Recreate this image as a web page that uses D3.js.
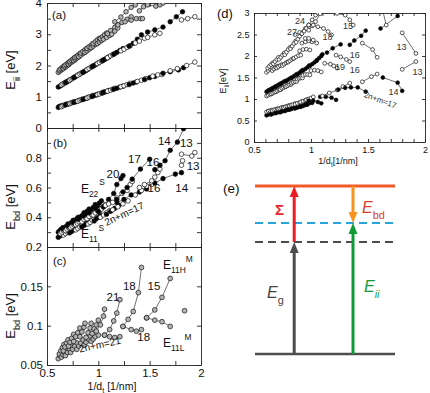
<!doctype html>
<html>
<head>
<meta charset="UTF-8">
<title>Kataura and Ebd plots</title>
<style>
  body { margin: 0; background: #fff; }
  svg text { font-family: "Liberation Sans", Arial, sans-serif; }
</style>
<script src="https://cdn.jsdelivr.net/npm/d3@7/dist/d3.min.js"></script>
</head>
<body>
<svg id="fig" width="430" height="393"></svg>
<script>
// ---- ticks ----
var abcXTicks = [0.5, 0.75, 1, 1.25, 1.5, 1.75, 2];
var abcXLabels = [0.5, 1, 1.5, 2];
var aYTicks = [0, 0.5, 1, 1.5, 2, 2.5, 3, 3.5, 4];
var aYLabels = [0, 1, 2, 3, 4];
var bYTicks = [0.2, 0.3, 0.4, 0.5, 0.6, 0.7, 0.8, 0.9, 1.0];
var bYLabels = [0.2, 0.4, 0.6, 0.8];
var cYTicks = [0.05, 0.1, 0.15, 0.2];
var cYLabels = [0.05, 0.1, 0.15];
var dXTicks = [0.5, 0.6, 0.7, 0.8, 0.9, 1, 1.1, 1.2, 1.3, 1.4, 1.5, 1.6, 1.7, 1.8, 1.9, 2];
var dXLabels = [0.5, 1, 1.5, 2];
var dYTicks = [0, 0.5, 1, 1.5, 2, 2.5, 3];

// ---- panel (a): Eii vs 1/dt, t = 1 filled, 2 open, 3 metallic ----
var aE11 = [
  {t:1, p:[[0.61,0.66],[0.62,0.69],[0.635,0.70],[0.65,0.72]]},
  {t:2, p:[[0.64,0.68],[0.655,0.71],[0.67,0.73],[0.685,0.76]]},
  {t:1, p:[[0.68,0.74],[0.695,0.76],[0.71,0.77],[0.725,0.79]]},
  {t:2, p:[[0.72,0.78],[0.735,0.80],[0.75,0.82],[0.765,0.84]]},
  {t:1, p:[[0.76,0.82],[0.775,0.84],[0.79,0.85],[0.81,0.88]]},
  {t:2, p:[[0.80,0.86],[0.82,0.89],[0.835,0.91],[0.85,0.93]]},
  {t:1, p:[[0.85,0.91],[0.87,0.94],[0.885,0.95],[0.90,0.98]]},
  {t:2, p:[[0.89,0.96],[0.91,0.99],[0.93,1.01],[0.945,1.04]]},
  {t:1, p:[[0.94,1.01],[0.96,1.04],[0.98,1.06],[0.995,1.08]]},
  {t:2, p:[[0.99,1.07],[1.01,1.09],[1.03,1.12],[1.05,1.15]]},
  {t:1, p:[[1.04,1.12],[1.06,1.15],[1.08,1.17],[1.10,1.20]]},
  {t:2, p:[[1.09,1.18],[1.12,1.21],[1.14,1.24],[1.16,1.27]]},
  {t:1, p:[[1.15,1.24],[1.18,1.27],[1.21,1.31],[1.24,1.34]]},
  {t:2, p:[[1.22,1.32],[1.25,1.35],[1.28,1.39],[1.31,1.43]]},
  {t:1, p:[[1.30,1.39],[1.34,1.44],[1.37,1.47]]},
  {t:2, p:[[1.38,1.49],[1.42,1.53],[1.46,1.58]]},
  {t:1, p:[[1.45,1.55],[1.50,1.61],[1.55,1.65]]},
  {t:2, p:[[1.53,1.66],[1.58,1.70],[1.62,1.71]]},
  {t:1, p:[[1.63,1.75],[1.70,1.80],[1.78,1.86],[1.83,1.93]]},
  {t:2, p:[[1.70,1.83],[1.77,1.90]]},
  {t:2, p:[[1.86,2.00],[1.94,2.11]]}
];
var aE22 = [
  {t:1, p:[[0.61,1.31],[0.625,1.34],[0.64,1.37],[0.655,1.40]]},
  {t:2, p:[[0.64,1.38],[0.655,1.41],[0.67,1.44],[0.685,1.47]]},
  {t:1, p:[[0.68,1.45],[0.695,1.48],[0.71,1.51],[0.725,1.54]]},
  {t:2, p:[[0.72,1.53],[0.735,1.56],[0.75,1.59],[0.765,1.62]]},
  {t:1, p:[[0.76,1.61],[0.775,1.64],[0.79,1.67],[0.81,1.71]]},
  {t:2, p:[[0.80,1.69],[0.82,1.73],[0.835,1.76],[0.85,1.79]]},
  {t:1, p:[[0.85,1.78],[0.87,1.82],[0.885,1.85],[0.90,1.88]]},
  {t:2, p:[[0.89,1.87],[0.91,1.91],[0.93,1.95],[0.945,1.98]]},
  {t:1, p:[[0.94,1.96],[0.96,2.00],[0.98,2.04],[1.00,2.08]]},
  {t:2, p:[[0.99,2.06],[1.01,2.10],[1.03,2.14],[1.05,2.18]]},
  {t:1, p:[[1.04,2.15],[1.06,2.19],[1.08,2.23],[1.10,2.27]]},
  {t:2, p:[[1.09,2.25],[1.12,2.31],[1.14,2.35],[1.16,2.38]]},
  {t:1, p:[[1.15,2.36],[1.18,2.42],[1.21,2.48],[1.24,2.54]]},
  {t:2, p:[[1.22,2.47],[1.25,2.52],[1.28,2.58],[1.31,2.63]]},
  {t:1, p:[[1.30,2.62],[1.34,2.71],[1.38,2.84],[1.42,2.98]]},
  {t:2, p:[[1.36,2.72],[1.40,2.78],[1.45,2.87]]},
  {t:2, p:[[1.48,2.90],[1.55,2.98],[1.60,3.03]]},
  {t:1, p:[[1.48,3.07],[1.55,3.14],[1.63,3.23]]},
  {t:1, p:[[1.70,3.40],[1.76,3.56],[1.82,3.72]]},
  {t:2, p:[[1.81,3.46],[1.87,3.50],[1.94,3.56]]}
];
var aE33 = [
  {t:3, p:[[0.61,1.78],[0.625,1.82],[0.64,1.86],[0.655,1.90]]},
  {t:3, p:[[0.62,1.86],[0.635,1.90],[0.65,1.94],[0.665,1.98]]},
  {t:3, p:[[0.66,1.90],[0.675,1.94],[0.69,1.98],[0.705,2.02]]},
  {t:3, p:[[0.67,1.99],[0.685,2.03],[0.70,2.07],[0.715,2.11]]},
  {t:3, p:[[0.71,2.03],[0.725,2.07],[0.74,2.11],[0.755,2.15]]},
  {t:3, p:[[0.72,2.12],[0.735,2.16],[0.75,2.20],[0.765,2.24]]},
  {t:3, p:[[0.76,2.15],[0.775,2.19],[0.79,2.23],[0.81,2.28]]},
  {t:3, p:[[0.77,2.25],[0.785,2.29],[0.80,2.33],[0.82,2.38]]},
  {t:3, p:[[0.81,2.28],[0.83,2.33],[0.85,2.38],[0.87,2.43]]},
  {t:3, p:[[0.83,2.40],[0.85,2.45],[0.87,2.50],[0.89,2.55]]},
  {t:3, p:[[0.87,2.42],[0.89,2.47],[0.91,2.52],[0.93,2.57]]},
  {t:3, p:[[0.89,2.55],[0.91,2.60],[0.93,2.65],[0.95,2.70]]},
  {t:3, p:[[0.93,2.57],[0.95,2.62],[0.97,2.67],[0.99,2.72]]},
  {t:3, p:[[0.95,2.70],[0.97,2.76],[0.99,2.82],[1.01,2.87]]},
  {t:3, p:[[0.99,2.70],[1.01,2.75],[1.03,2.80],[1.05,2.86]]},
  {t:3, p:[[1.02,2.86],[1.04,2.92],[1.06,2.98],[1.08,3.04]]},
  {t:3, p:[[1.05,2.84],[1.08,2.90],[1.11,2.96],[1.13,3.02]]},
  {t:3, p:[[1.09,3.02],[1.12,3.12],[1.16,3.22],[1.19,3.30]]},
  {t:3, p:[[1.13,3.00],[1.16,3.10],[1.19,3.20]]},
  {t:3, p:[[1.19,3.30],[1.23,3.38],[1.28,3.48],[1.32,3.56]]},
  {t:3, p:[[1.16,3.40],[1.22,3.55],[1.27,3.72],[1.32,3.86],[1.36,3.94]]},
  {t:3, p:[[1.26,3.40],[1.32,3.45],[1.37,3.50],[1.41,3.50],[1.43,3.50]]},
  {t:3, p:[[1.40,3.75],[1.44,3.88],[1.48,3.96]]},
  {t:3, p:[[1.48,3.94],[1.56,3.90],[1.60,3.94],[1.63,4.0]]}
];

// ---- panel (b): Ebd of semiconducting tubes ----
var bE22 = [
  {t:1, p:[[0.61,0.30],[0.625,0.31],[0.64,0.32],[0.655,0.33]]},
  {t:2, p:[[0.63,0.29],[0.645,0.30],[0.66,0.31],[0.675,0.32]]},
  {t:1, p:[[0.66,0.32],[0.675,0.33],[0.69,0.34],[0.705,0.355]]},
  {t:2, p:[[0.68,0.31],[0.695,0.32],[0.71,0.33],[0.725,0.34]]},
  {t:1, p:[[0.71,0.34],[0.725,0.355],[0.74,0.365],[0.755,0.38]]},
  {t:2, p:[[0.73,0.33],[0.745,0.34],[0.76,0.35],[0.775,0.36]]},
  {t:1, p:[[0.76,0.36],[0.775,0.375],[0.79,0.39],[0.805,0.40]]},
  {t:2, p:[[0.78,0.35],[0.795,0.36],[0.81,0.37],[0.83,0.385]]},
  {t:1, p:[[0.81,0.385],[0.825,0.40],[0.84,0.41],[0.86,0.43]]},
  {t:2, p:[[0.84,0.37],[0.86,0.385],[0.875,0.395],[0.89,0.41]]},
  {t:1, p:[[0.86,0.41],[0.875,0.42],[0.89,0.44],[0.91,0.455]]},
  {t:2, p:[[0.89,0.39],[0.91,0.405],[0.93,0.42],[0.95,0.435]]},
  {t:1, p:[[0.91,0.43],[0.93,0.45],[0.95,0.465],[0.97,0.485]]},
  {t:2, p:[[0.95,0.415],[0.97,0.43],[0.99,0.445],[1.01,0.46]]},
  {t:1, p:[[0.97,0.46],[0.99,0.475],[1.01,0.495],[1.03,0.51]]},
  {t:2, p:[[1.01,0.44],[1.03,0.455],[1.05,0.47],[1.07,0.485]]},
  {t:1, p:[[1.00,0.44],[1.05,0.47],[1.10,0.52],[1.15,0.56],[1.18,0.62],[1.22,0.66],[1.24,0.68]]},
  {t:2, p:[[1.07,0.48],[1.10,0.49],[1.14,0.50],[1.18,0.53],[1.23,0.56],[1.28,0.58],[1.31,0.62],[1.33,0.64]]},
  {t:1, p:[[1.18,0.52],[1.24,0.57],[1.28,0.60],[1.33,0.656],[1.41,0.724],[1.50,0.79]]},
  {t:2, p:[[1.40,0.60],[1.45,0.62],[1.52,0.645],[1.55,0.67],[1.58,0.70],[1.60,0.724]]},
  {t:1, p:[[1.55,0.72],[1.60,0.75],[1.65,0.78],[1.70,0.85],[1.77,0.905],[1.83,0.995]]},
  {t:2, p:[[1.81,0.824],[1.91,0.812],[1.94,0.835]]},
  {t:2, p:[[1.81,0.75],[1.82,0.78]]}
];
var bE11 = [
  {t:1, p:[[0.61,0.265],[0.63,0.275],[0.65,0.285],[0.67,0.29]]},
  {t:2, p:[[0.66,0.28],[0.68,0.29],[0.70,0.30],[0.72,0.31]]},
  {t:1, p:[[0.72,0.295],[0.74,0.305],[0.76,0.315],[0.78,0.325]]},
  {t:2, p:[[0.78,0.315],[0.80,0.325],[0.82,0.335],[0.84,0.345]]},
  {t:1, p:[[0.84,0.335],[0.86,0.345],[0.88,0.355],[0.90,0.37]]},
  {t:2, p:[[0.90,0.355],[0.92,0.365],[0.94,0.38],[0.96,0.39]]},
  {t:1, p:[[0.96,0.375],[0.98,0.39],[1.00,0.40],[1.02,0.415]]},
  {t:2, p:[[1.02,0.40],[1.05,0.415],[1.08,0.43],[1.11,0.445]]},
  {t:1, p:[[1.08,0.42],[1.12,0.44],[1.16,0.46],[1.20,0.48]]},
  {t:2, p:[[1.14,0.45],[1.19,0.47],[1.24,0.49],[1.29,0.51]]},
  {t:1, p:[[1.18,0.50],[1.25,0.52],[1.32,0.55],[1.40,0.57],[1.47,0.59]]},
  {t:2, p:[[1.36,0.55],[1.42,0.58],[1.47,0.61],[1.52,0.62]]},
  {t:1, p:[[1.55,0.63],[1.63,0.66],[1.75,0.69],[1.81,0.70]]}
];

// ---- panel (c): Ebd of metallic tubes ----
var cM = [
  {t:3, p:[[0.61,0.058],[0.625,0.062],[0.64,0.066],[0.655,0.070]]},
  {t:3, p:[[0.62,0.064],[0.635,0.068],[0.65,0.072],[0.665,0.076]]},
  {t:3, p:[[0.64,0.060],[0.655,0.063],[0.67,0.066],[0.685,0.070]]},
  {t:3, p:[[0.66,0.068],[0.675,0.073],[0.69,0.078],[0.705,0.082]]},
  {t:3, p:[[0.68,0.062],[0.70,0.066],[0.72,0.070],[0.74,0.074]]},
  {t:3, p:[[0.71,0.074],[0.725,0.079],[0.74,0.084],[0.76,0.089]]},
  {t:3, p:[[0.73,0.066],[0.75,0.070],[0.77,0.074],[0.79,0.078]]},
  {t:3, p:[[0.76,0.080],[0.78,0.086],[0.80,0.091],[0.82,0.097]]},
  {t:3, p:[[0.79,0.070],[0.81,0.074],[0.83,0.078],[0.85,0.082]]},
  {t:3, p:[[0.82,0.086],[0.84,0.092],[0.86,0.098],[0.87,0.103]]},
  {t:3, p:[[0.86,0.075],[0.88,0.079],[0.90,0.083],[0.92,0.087]]},
  {t:3, p:[[0.88,0.085],[0.90,0.091],[0.92,0.097],[0.93,0.103]]},
  {t:3, p:[[0.93,0.080],[0.95,0.083],[0.97,0.086],[1.00,0.088]]},
  {t:3, p:[[0.94,0.090],[0.96,0.096],[0.98,0.101],[1.00,0.107]]},
  {t:3, p:[[0.98,0.093],[1.02,0.101],[1.05,0.112],[1.06,0.121]]},
  {t:3, p:[[1.06,0.088],[1.11,0.095],[1.15,0.106],[1.18,0.116],[1.21,0.133]]},
  {t:3, p:[[1.06,0.088],[1.11,0.086],[1.16,0.085],[1.21,0.086]]},
  {t:3, p:[[1.24,0.099],[1.29,0.108],[1.34,0.118],[1.39,0.142],[1.42,0.174]]},
  {t:3, p:[[1.24,0.099],[1.32,0.095],[1.37,0.093],[1.42,0.095]]},
  {t:3, p:[[1.47,0.110],[1.55,0.120],[1.62,0.136],[1.70,0.160]]},
  {t:3, p:[[1.47,0.110],[1.55,0.107],[1.62,0.105],[1.70,0.099]]},
  {t:3, p:[[1.84,0.119]]}
];

// ---- panel (d): Eii vs 1/dt ----
var dE11 = [
  {t:1, p:[[0.61,0.62],[0.625,0.64],[0.64,0.66],[0.655,0.67]]},
  {t:2, p:[[0.61,0.70],[0.625,0.72],[0.64,0.73],[0.655,0.74]]},
  {t:1, p:[[0.65,0.64],[0.665,0.66],[0.68,0.68],[0.695,0.69]]},
  {t:2, p:[[0.66,0.73],[0.675,0.75],[0.69,0.76],[0.705,0.77]]},
  {t:1, p:[[0.69,0.67],[0.705,0.69],[0.72,0.70],[0.735,0.72]]},
  {t:2, p:[[0.71,0.77],[0.725,0.78],[0.74,0.80],[0.755,0.81]]},
  {t:1, p:[[0.73,0.69],[0.745,0.71],[0.76,0.73],[0.775,0.74]]},
  {t:2, p:[[0.76,0.80],[0.775,0.82],[0.79,0.83],[0.805,0.85]]},
  {t:1, p:[[0.77,0.72],[0.785,0.74],[0.80,0.76],[0.815,0.77]]},
  {t:2, p:[[0.81,0.84],[0.825,0.86],[0.84,0.87],[0.86,0.89]]},
  {t:1, p:[[0.81,0.75],[0.83,0.77],[0.85,0.79],[0.865,0.80]]},
  {t:2, p:[[0.86,0.88],[0.88,0.90],[0.90,0.92],[0.92,0.94]]},
  {t:1, p:[[0.86,0.78],[0.88,0.80],[0.90,0.82],[0.915,0.83]]},
  {t:2, p:[[0.91,0.93],[0.93,0.95],[0.95,0.97],[0.97,0.99]]},
  {t:1, p:[[0.91,0.82],[0.93,0.84],[0.95,0.86],[0.97,0.87]]},
  {t:2, p:[[0.96,0.98],[0.98,1.00],[1.00,1.02],[1.02,1.05]]},
  {t:1, p:[[0.95,0.87],[0.97,0.90],[0.99,0.91],[1.01,0.91]]},
  {t:1, p:[[0.98,0.96],[1.02,0.96],[1.06,0.93],[1.09,0.90]]},
  {t:1, p:[[1.08,1.05],[1.13,1.05],[1.18,1.03],[1.22,0.98]]},
  {t:2, p:[[1.10,1.07],[1.16,1.14],[1.23,1.21],[1.28,1.29],[1.34,1.37]]},
  {t:1, p:[[1.24,1.22],[1.30,1.26],[1.35,1.27],[1.41,1.27],[1.48,1.17]]},
  {t:2, p:[[1.45,1.40],[1.53,1.52],[1.58,1.58]]},
  {t:1, p:[[1.63,1.50],[1.76,1.38],[1.80,1.19]]}
];
var dE22 = [
  {t:2, p:[[0.61,1.07],[0.625,1.09],[0.64,1.11],[0.655,1.12]]},
  {t:1, p:[[0.61,1.17],[0.625,1.20],[0.64,1.22],[0.655,1.24]]},
  {t:2, p:[[0.65,1.12],[0.665,1.14],[0.68,1.16],[0.695,1.17]]},
  {t:1, p:[[0.65,1.22],[0.665,1.25],[0.68,1.28],[0.695,1.30]]},
  {t:2, p:[[0.69,1.17],[0.705,1.19],[0.72,1.21],[0.735,1.22]]},
  {t:1, p:[[0.69,1.28],[0.705,1.31],[0.72,1.34],[0.735,1.36]]},
  {t:2, p:[[0.73,1.22],[0.745,1.25],[0.76,1.27],[0.775,1.28]]},
  {t:1, p:[[0.73,1.34],[0.745,1.37],[0.76,1.40],[0.775,1.42]]},
  {t:2, p:[[0.78,1.29],[0.795,1.31],[0.81,1.33],[0.825,1.34]]},
  {t:1, p:[[0.78,1.41],[0.795,1.44],[0.81,1.47],[0.825,1.49]]},
  {t:2, p:[[0.83,1.37],[0.845,1.39],[0.86,1.40],[0.875,1.41]]},
  {t:1, p:[[0.83,1.49],[0.845,1.52],[0.86,1.55],[0.875,1.58]]},
  {t:2, p:[[0.88,1.46],[0.895,1.48],[0.91,1.49],[0.925,1.49]]},
  {t:1, p:[[0.88,1.57],[0.895,1.60],[0.91,1.64],[0.925,1.67]]},
  {t:2, p:[[0.93,1.55],[0.95,1.57],[0.97,1.57],[0.99,1.56]]},
  {t:1, p:[[0.93,1.66],[0.95,1.70],[0.97,1.74],[0.985,1.78]]},
  {t:2, p:[[1.00,1.66],[1.03,1.67],[1.06,1.66],[1.09,1.63]]},
  {t:1, p:[[0.99,1.77],[1.01,1.81],[1.03,1.85],[1.05,1.89]]},
  {t:2, p:[[1.12,1.83],[1.17,1.81],[1.20,1.77],[1.23,1.72]]},
  {t:1, p:[[1.05,1.90],[1.07,1.95],[1.09,2.00],[1.10,2.04]]},
  {t:1, p:[[1.14,2.08],[1.19,2.18],[1.26,2.27]]},
  {t:2, p:[[1.22,2.02],[1.26,1.98],[1.31,1.92],[1.34,1.87]]},
  {t:1, p:[[1.34,2.26],[1.38,2.36],[1.44,2.47],[1.48,2.59]]},
  {t:2, p:[[1.45,2.30],[1.54,2.15],[1.58,1.97]]},
  {t:1, p:[[1.61,2.64],[1.76,2.93]]},
  {t:2, p:[[1.63,3.05],[1.66,2.72]]},
  {t:2, p:[[1.80,2.54],[1.92,2.06]]},
  {t:2, p:[[1.80,1.69],[1.92,1.87]]}
];
var dE33 = [
  {t:2, p:[[0.61,1.62],[0.625,1.66],[0.64,1.70],[0.655,1.74]]},
  {t:2, p:[[0.62,1.72],[0.635,1.76],[0.65,1.80],[0.665,1.84]]},
  {t:2, p:[[0.66,1.66],[0.675,1.70],[0.69,1.73],[0.705,1.76]]},
  {t:2, p:[[0.67,1.82],[0.685,1.87],[0.70,1.92],[0.715,1.97]]},
  {t:2, p:[[0.70,1.72],[0.715,1.75],[0.73,1.78],[0.745,1.80]]},
  {t:2, p:[[0.72,1.92],[0.735,1.97],[0.75,2.02],[0.765,2.07]]},
  {t:2, p:[[0.75,1.78],[0.765,1.81],[0.78,1.84],[0.795,1.86]]},
  {t:2, p:[[0.77,2.03],[0.785,2.09],[0.80,2.15],[0.815,2.20]]},
  {t:2, p:[[0.80,1.86],[0.815,1.89],[0.83,1.92],[0.845,1.94]]},
  {t:2, p:[[0.82,2.17],[0.835,2.23],[0.85,2.29],[0.865,2.35]]},
  {t:2, p:[[0.85,1.95],[0.87,1.98],[0.89,2.01],[0.91,2.02]]},
  {t:2, p:[[0.87,2.32],[0.885,2.39],[0.90,2.46],[0.915,2.52]]},
  {t:2, p:[[0.90,2.12],[0.93,2.15],[0.96,2.16],[0.99,2.14]]},
  {t:2, p:[[0.92,2.30],[0.95,2.33],[0.98,2.35],[1.01,2.33]]},
  {t:2, p:[[0.95,2.41],[0.98,2.41],[1.02,2.37],[1.05,2.30]]},
  {t:2, p:[[0.86,2.50],[0.90,2.55],[0.95,2.64]]},
  {t:2, p:[[0.92,2.52],[0.94,2.58],[0.96,2.64],[0.98,2.72]]},
  {t:2, p:[[0.98,2.72],[1.01,2.84],[1.04,2.95],[1.06,3.0]]},
  {t:2, p:[[0.98,2.60],[1.01,2.70],[1.04,2.80],[1.08,2.98]]},
  {t:2, p:[[1.02,2.72],[1.06,2.68],[1.11,2.64],[1.15,2.57],[1.18,2.49]]},
  {t:2, p:[[1.23,2.99],[1.30,2.95],[1.34,2.84],[1.37,2.72]]}
];

// ---- panel (e): energy levels (arbitrary units, ground = 0, gap = 1) ----
var eLevels = [0, 1, 1.17, 1.5];   // ground, Eg, Eii, band edge
var eArrowX = [0.28, 0.7];

// ---- annotations ----
var bNotes = [["14",1.58,0.885],["13",1.795,0.871],["17",1.29,0.763],["16",1.47,0.742],
              ["20",1.08,0.661],["16",1.48,0.573],["14",1.75,0.573],["13",1.86,0.715]];
var cNotes = [["21",1.08,0.131],["18",1.24,0.145],["15",1.48,0.145],["18",1.38,0.081]];
var dNotes = [["24",0.86,2.74],["27",0.79,2.49],["15",1.28,2.63],["18",1.10,2.37],["16",1.34,1.95],
              ["19",1.21,1.67],["16",1.34,1.60],["13",1.75,2.14],["13",1.89,1.56],["14",1.68,1.09]];

var svg = d3.select("#fig");
svg.append("rect").attr("width",430).attr("height",393).attr("fill","#fff");

var xA = d3.scaleLinear().domain([0.5,2]).range([47,201]);
var yA = d3.scaleLinear().domain([0,4]).range([128,3]);
var yB = d3.scaleLinear().domain([0.2,1.0]).range([247,128]);
var yC = d3.scaleLinear().domain([0.05,0.2]).range([365,247]);
var xD = d3.scaleLinear().domain([0.5,2]).range([254,425]);
var yD = d3.scaleLinear().domain([0,3]).range([142,13]);

var fills = {1:"#000", 2:"#fff", 3:"#b3b3b3"};
var clipN = 0;

function frame(x, y, xt, xl, yt, yl, fs, pad, tk) {
  var g = svg.append("g");
  var y0 = y.range()[0], y1 = y.range()[1], x0 = x.range()[0], x1 = x.range()[1];
  var fx = function(d){ return xl.indexOf(d) >= 0 ? String(d) : ""; };
  var fy = function(d){ return yl.indexOf(d) >= 0 ? String(d) : ""; };
  var none = function(){ return ""; };
  g.append("g").attr("transform","translate(0,"+y0+")")
    .call(d3.axisBottom(x).tickValues(xt).tickSize(-tk).tickSizeOuter(0).tickPadding(pad).tickFormat(fx));
  g.append("g").attr("transform","translate(0,"+y1+")")
    .call(d3.axisTop(x).tickValues(xt).tickSize(-tk).tickSizeOuter(0).tickFormat(none));
  g.append("g").attr("transform","translate("+x0+",0)")
    .call(d3.axisLeft(y).tickValues(yt).tickSize(-tk).tickSizeOuter(0).tickPadding(pad).tickFormat(fy));
  g.append("g").attr("transform","translate("+x1+",0)")
    .call(d3.axisRight(y).tickValues(yt).tickSize(-tk).tickSizeOuter(0).tickFormat(none));
  g.selectAll("text").attr("font-size",fs).attr("font-family","Liberation Sans, Arial, sans-serif").attr("fill","#111");
  g.selectAll("path.domain, line").attr("stroke","#222").attr("stroke-width",0.9);
  return g;
}

function plotFams(x, y, sets, r) {
  clipN++;
  var id = "clip" + clipN;
  svg.append("clipPath").attr("id",id).append("rect")
    .attr("x",x.range()[0]).attr("y",y.range()[1])
    .attr("width",x.range()[1]-x.range()[0]).attr("height",y.range()[0]-y.range()[1]);
  var g = svg.append("g").attr("clip-path","url(#"+id+")");
  var line = d3.line().x(function(d){return x(d[0]);}).y(function(d){return y(d[1]);});
  sets.forEach(function(fams){
    fams.forEach(function(f){
      g.append("path").datum(f.p).attr("d",line).attr("fill","none").attr("stroke","#111").attr("stroke-width",0.6);
    });
  });
  sets.forEach(function(fams){
    fams.forEach(function(f){
      g.selectAll(null).data(f.p).join("circle")
        .attr("cx",function(d){return x(d[0]);}).attr("cy",function(d){return y(d[1]);})
        .attr("r",r).attr("fill",fills[f.t]).attr("stroke","#111").attr("stroke-width",0.7);
    });
  });
}

function rich(px, py, parts, size, o) {
  o = o || {};
  var t = svg.append("text").attr("x",px).attr("y",py).attr("font-size",size).attr("fill",o.fill || "#111");
  if (o.family) t.attr("font-family",o.family);
  if (o.anchor) t.attr("text-anchor",o.anchor);
  if (o.rotate != null) t.attr("transform","rotate("+o.rotate+","+px+","+py+")");
  var cur = 0;
  parts.forEach(function(p){
    var s = t.append("tspan").text(p.t);
    var off = p.sub ? size*0.35 : (p.sup ? -size*0.6 : 0);
    s.attr("dy", off - cur); cur = off;
    if (p.sub || p.sup) s.attr("font-size", size*(p.small || 0.7));
    if (p.it) s.attr("font-style","italic");
    if (p.bold) s.attr("font-weight","bold");
    if (p.dx) s.attr("dx", p.dx);
  });
  return t;
}

// frames
frame(xA, yA, abcXTicks, [], aYTicks, aYLabels, 11.5, 5, 4);
frame(xA, yB, abcXTicks, [], bYTicks, bYLabels, 11.5, 5, 4);
frame(xA, yC, abcXTicks, abcXLabels, cYTicks, cYLabels, 11.5, 4, 4);
frame(xD, yD, dXTicks, dXLabels, dYTicks, dYTicks, 9, 4.5, 3);

// data
plotFams(xA, yA, [aE33, aE22, aE11], 2.3);
plotFams(xA, yB, [bE11, bE22], 2.3);
plotFams(xA, yC, [cM], 2.4);
plotFams(xD, yD, [dE33, dE22, dE11], 1.9);

// panel letters
rich(52, 19, [{t:"(a)"}], 11.5);
rich(53, 147, [{t:"(b)"}], 11.5);
rich(53, 265, [{t:"(c)"}], 11.5);
rich(217, 18, [{t:"(d)"}], 13);
rich(223, 193, [{t:"(e)"}], 13.5);

// axis titles
rich(15, 70, [{t:"E"},{t:"ii",sub:true},{t:" [eV]"}], 13, {anchor:"middle", rotate:-90});
rich(15, 207, [{t:"E"},{t:"bd",sub:true},{t:" [eV]"}], 13, {anchor:"middle", rotate:-90});
rich(15, 316, [{t:"E"},{t:"bd",sub:true},{t:" [eV]"}], 13, {anchor:"middle", rotate:-90});
rich(112, 389.5, [{t:"1/d"},{t:"t",sub:true},{t:" [1/nm]"}], 10.5, {anchor:"middle"});
rich(226, 81, [{t:"E"},{t:"ii",sub:true},{t:"[eV]"}], 9, {anchor:"middle", rotate:-90});
rich(338, 164, [{t:"1/d"},{t:"t",sub:true},{t:"[1/nm]"}], 9, {anchor:"middle"});

// family labels
bNotes.forEach(function(n){ rich(xA(n[1]), yB(n[2]), [{t:n[0]}], 11.5); });
cNotes.forEach(function(n){ rich(xA(n[1]), yC(n[2]), [{t:n[0]}], 11.5); });
dNotes.forEach(function(n){ rich(xD(n[1]), yD(n[2]), [{t:n[0]}], 9, {fill:"#333"}); });

rich(xA(0.83), yB(0.566), [{t:"E"},{t:"22",sub:true},{t:"S",sup:true,dx:1}], 12);
rich(xA(0.83), yB(0.261), [{t:"E"},{t:"11",sub:true},{t:"S",sup:true,dx:1}], 12);
rich(xA(1.08), yB(0.342), [{t:"2n+m=17"}], 10, {rotate:-25});
rich(xA(1.63), yC(0.172), [{t:"E"},{t:"11H",sub:true},{t:"M",sup:true}], 12);
rich(xA(1.63), yC(0.073), [{t:"E"},{t:"11L",sub:true},{t:"M",sup:true}], 12);
rich(xA(0.82), yC(0.066), [{t:"2n+m=21"}], 10, {rotate:-12});
rich(xD(1.46), yD(1.05), [{t:"2n+m=17"}], 8, {rotate:20, fill:"#333"});

// ---- panel (e) ----
var eX = d3.scaleLinear().domain([0,1]).range([255,395]);
var eY = d3.scaleLinear().domain([0,1.5]).range([354,186]);
var gE = svg.append("g");
var levelStyle = [
  {c:"#4d4d4d", w:2.5, dash:null},
  {c:"#4d4d4d", w:2, dash:"8,5"},
  {c:"#29a3dc", w:2, dash:"8,5"},
  {c:"#f15a29", w:3, dash:null}
];
eLevels.forEach(function(e, i){
  var s = levelStyle[i];
  var l = gE.append("line").attr("x1",eX(0)).attr("x2",eX(1)).attr("y1",eY(e)).attr("y2",eY(e))
    .attr("stroke",s.c).attr("stroke-width",s.w);
  if (s.dash) l.attr("stroke-dasharray",s.dash);
});

function arrow(x, from, to, color) {
  var tip = eY(to), base = eY(from);
  var dir = tip < base ? 1 : -1;   // 1 = head points up on screen
  var hl = 11, hw = 4.5;
  gE.append("line").attr("x1",x).attr("x2",x).attr("y1",base).attr("y2",tip + dir*hl*0.8)
    .attr("stroke",color).attr("stroke-width",3);
  gE.append("path")
    .attr("d","M"+x+","+tip+"L"+(x-hw)+","+(tip+dir*hl)+"L"+(x+hw)+","+(tip+dir*hl)+"Z")
    .attr("fill",color);
}
arrow(eX(eArrowX[0]), eLevels[0], eLevels[1], "#4d4d4d");
arrow(eX(eArrowX[0]), eLevels[1], eLevels[3], "#ed1c24");
arrow(eX(eArrowX[1]), eLevels[0], eLevels[2], "#0f9a38");
arrow(eX(eArrowX[1]), eLevels[3], eLevels[2], "#f7931e");

var serif = "Liberation Serif, Times New Roman, serif";
rich(275, 215, [{t:"Σ", bold:true}], 15, {fill:"#e8262a", family:serif});
rich(362, 213, [{t:"E", it:true},{t:"bd", sub:true, small:0.68}], 16, {fill:"#d9412b", family:serif});
rich(267, 298, [{t:"E", it:true},{t:"g", sub:true, small:0.68}], 16, {fill:"#444", family:serif});
rich(364, 292, [{t:"E", it:true},{t:"ii", sub:true, it:true, small:0.68}], 16, {fill:"#119a3a", family:serif});
</script>
</body>
</html>
